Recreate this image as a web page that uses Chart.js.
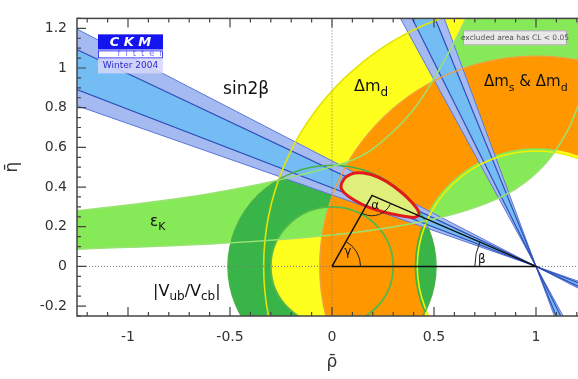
<!DOCTYPE html>
<html>
<head>
<meta charset="utf-8">
<script src="https://cdn.jsdelivr.net/npm/chart.js@4.4.1/dist/chart.umd.min.js"></script>
<style>
  html, body { margin: 0; padding: 0; background: #fff; overflow: hidden; }
  #wrap { width: 590px; height: 379px; }
</style>
</head>
<body>
<div id="wrap"><canvas id="c" width="590" height="379"></canvas></div>
<script>
/* CKM-Ebene (rho-bar, eta-bar) */
var X_TICKS = [-1, -0.5, 0, 0.5, 1];
var Y_TICKS = [-0.2, 0, 0.2, 0.4, 0.6, 0.8, 1, 1.2];

var APEX = [0.196, 0.358];          // Spitze des Dreiecks (rho, eta)
var DMD_R = [0.582, 1.335];         // Δm_d: Ring um (1,0), innen/aussen
var DMS_R = [0.595, 1.06];          // Δm_s & Δm_d: Ring um (1,0)
var VUB_R = [0.30, 0.51];           // |Vub/Vcb|: Ring um (0,0)
var BETA_OUT = [19.8, 28.0];        // sin2β, Winkel in Grad (CL 0.05)
var BETA_IN = [21.6, 25.9];         // sin2β, inneres Band

// ε_K: untere und obere Bandkante
var EPSK_LO_RHO = [-1.3, -0.8, -0.4, 0, 0.3, 0.6, 0.8, 0.9, 1.0, 1.1, 1.2, 1.3];
var EPSK_LO_ETA = [0.085, 0.102, 0.123, 0.156, 0.195, 0.26, 0.333, 0.388, 0.465, 0.58, 0.77, 1.14];
var EPSK_HI_RHO = [-1.3, -0.8, -0.36, 0, 0.14, 0.24, 0.4, 0.52, 0.6, 0.68];
var EPSK_HI_ETA = [0.275, 0.33, 0.41, 0.5, 0.55, 0.62, 0.78, 0.98, 1.13, 1.3];

// Konturlinie CL = 0.05 (rot)
var CL_RHO = [0.044, 0.069, 0.118, 0.191, 0.265, 0.338, 0.397, 0.431, 0.417, 0.363, 0.289, 0.216, 0.142, 0.078, 0.044];
var CL_ETA = [0.417, 0.456, 0.475, 0.466, 0.431, 0.377, 0.319, 0.270, 0.245, 0.250, 0.265, 0.284, 0.314, 0.353, 0.387];

var FONT = '"DejaVu Sans", "Liberation Sans", sans-serif';
var D2R = Math.PI / 180;

function pts(rs, es) { return rs.map(function (r, i) { return [r, es[i]]; }); }

// glatte Kurve durch Mittelpunkte
function smoothOpen(ctx, p, first) {
  if (first) ctx.moveTo(p[0][0], p[0][1]); else ctx.lineTo(p[0][0], p[0][1]);
  for (var i = 1; i < p.length - 1; i++) {
    ctx.quadraticCurveTo(p[i][0], p[i][1], (p[i][0] + p[i + 1][0]) / 2, (p[i][1] + p[i + 1][1]) / 2);
  }
  ctx.lineTo(p[p.length - 1][0], p[p.length - 1][1]);
}
function smoothClosed(ctx, p) {
  var n = p.length;
  var m = function (i) { var a = p[i % n], b = p[(i + 1) % n]; return [(a[0] + b[0]) / 2, (a[1] + b[1]) / 2]; };
  var s = m(n - 1);
  ctx.moveTo(s[0], s[1]);
  for (var i = 0; i < n; i++) { var q = m(i); ctx.quadraticCurveTo(p[i][0], p[i][1], q[0], q[1]); }
  ctx.closePath();
}

// Text mit Tiefstellungen: parts = [[text, tief?], ...]
function subText(ctx, parts, x, y, size, color) {
  ctx.fillStyle = color; ctx.textBaseline = 'alphabetic'; ctx.textAlign = 'left';
  parts.forEach(function (p) {
    var fs = p[1] ? Math.round(size * 0.72) : size;
    ctx.font = fs + 'px ' + FONT;
    ctx.fillText(p[0], x, y + (p[1] ? size * 0.3 : 0));
    x += ctx.measureText(p[0]).width;
  });
}

var ckm = {
  id: 'ckm',
  beforeDatasetsDraw: function (chart) {
    var ctx = chart.ctx, a = chart.chartArea, xs = chart.scales.x, ys = chart.scales.y;
    var X = function (v) { return xs.getPixelForValue(v); };
    var Y = function (v) { return ys.getPixelForValue(v); };
    var kx = X(1) - X(0), ky = Y(0) - Y(1);
    var P = function (r, e) { return [X(r), Y(e)]; };

    ctx.save();
    ctx.beginPath(); ctx.rect(a.left, a.top, a.right - a.left, a.bottom - a.top); ctx.clip();

    function ring(cx, cy, r, color) {
      ctx.beginPath();
      ctx.ellipse(X(cx), Y(cy), r[1] * kx, r[1] * ky, 0, 0, 2 * Math.PI);
      ctx.moveTo(X(cx) + r[0] * kx, Y(cy));
      ctx.ellipse(X(cx), Y(cy), r[0] * kx, r[0] * ky, 0, 0, 2 * Math.PI, true);
      ctx.fillStyle = color; ctx.fill('evenodd');
    }
    function circ(cx, cy, r, color, w) {
      ctx.beginPath();
      ctx.ellipse(X(cx), Y(cy), r * kx, r * ky, 0, 0, 2 * Math.PI);
      ctx.strokeStyle = color; ctx.lineWidth = w; ctx.stroke();
    }
    // Doppelkegel um (1,0), Winkel gegen die -rho Richtung
    function wedge(th, color) {
      var L = 6;
      ctx.beginPath();
      [1, -1].forEach(function (s) {
        ctx.moveTo(X(1), Y(0));
        th.forEach(function (d) { ctx.lineTo(X(1 - s * L * Math.cos(d * D2R)), Y(s * L * Math.sin(d * D2R))); });
        ctx.closePath();
      });
      ctx.fillStyle = color; ctx.fill();
    }
    function ray(d, color, w) {
      var L = 6;
      ctx.beginPath();
      ctx.moveTo(X(1 - L * Math.cos(d * D2R)), Y(L * Math.sin(d * D2R)));
      ctx.lineTo(X(1 + L * Math.cos(d * D2R)), Y(-L * Math.sin(d * D2R)));
      ctx.strokeStyle = color; ctx.lineWidth = w; ctx.stroke();
    }

    var lo = pts(EPSK_LO_RHO, EPSK_LO_ETA).map(function (p) { return P(p[0], p[1]); });
    var hi = pts(EPSK_HI_RHO, EPSK_HI_ETA).map(function (p) { return P(p[0], p[1]); });

    // Δm_d
    ring(1, 0, DMD_R, '#ffff1e');
    // ε_K
    ctx.beginPath();
    smoothOpen(ctx, lo, true);
    ctx.lineTo(lo[lo.length - 1][0], a.top - 20);
    ctx.lineTo(hi[hi.length - 1][0], a.top - 20);
    smoothOpen(ctx, hi.slice().reverse(), false);
    ctx.closePath();
    ctx.fillStyle = '#86ea58'; ctx.fill();
    // |Vub/Vcb|
    ring(0, 0, VUB_R, '#38b448');
    // Δm_s & Δm_d
    ring(1, 0, DMS_R, '#ff9800');

    // sin2β (beide Lösungen)
    var steep = function (t) { return [90 - t[1], 90 - t[0]]; };
    wedge(BETA_OUT, '#a6baf2'); wedge(steep(BETA_OUT), '#a6baf2');
    wedge(BETA_IN, '#74bcf4'); wedge(steep(BETA_IN), '#74bcf4');
    BETA_OUT.concat(steep(BETA_OUT)).forEach(function (d) { ray(d, '#5a78d8', 1); });
    BETA_IN.concat(steep(BETA_IN)).forEach(function (d) { ray(d, '#2f4fb8', 1.2); });

    // Konturlinien
    circ(1, 0, DMD_R[1], '#e4e400', 1.6);
    circ(1, 0, DMD_R[0], '#f2f200', 1.6);
    circ(1, 0, DMS_R[1], '#f0a040', 1.4);
    circ(0, 0, VUB_R[0], '#52b84a', 1.8);
    circ(0, 0, VUB_R[1], '#48b046', 1.4);
    ctx.strokeStyle = '#9ae272'; ctx.lineWidth = 1.5;
    ctx.beginPath(); smoothOpen(ctx, lo, true); ctx.stroke();
    ctx.beginPath(); smoothOpen(ctx, hi, true); ctx.stroke();

    // gepunktete Achsen
    ctx.setLineDash([1, 2]); ctx.strokeStyle = '#777'; ctx.lineWidth = 1;
    ctx.beginPath(); ctx.moveTo(a.left, Y(0)); ctx.lineTo(a.right, Y(0));
    ctx.moveTo(X(0), a.top); ctx.lineTo(X(0), a.bottom); ctx.stroke();
    ctx.setLineDash([]);

    // CL-Kontur
    var cl = pts(CL_RHO, CL_ETA).map(function (p) { return P(p[0], p[1]); });
    ctx.beginPath(); smoothClosed(ctx, cl);
    ctx.fillStyle = '#dff07a'; ctx.fill();
    ctx.strokeStyle = '#e01a1a'; ctx.lineWidth = 3; ctx.stroke();

    ctx.restore();
  },
  afterDatasetsDraw: function (chart) {
    var ctx = chart.ctx, a = chart.chartArea, xs = chart.scales.x, ys = chart.scales.y;
    var X = function (v) { return xs.getPixelForValue(v); };
    var Y = function (v) { return ys.getPixelForValue(v); };
    var kx = X(1) - X(0);
    ctx.save();
    ctx.beginPath(); ctx.rect(a.left, a.top, a.right - a.left, a.bottom - a.top); ctx.clip();

    // Winkelbögen (Canvas-Winkel, y nach unten)
    var ag = Math.atan2(APEX[1], APEX[0]);
    var ab = Math.atan2(APEX[1], 1 - APEX[0]);
    ctx.strokeStyle = '#222'; ctx.lineWidth = 1;
    ctx.beginPath(); ctx.arc(X(0), Y(0), 0.14 * kx, -ag, 0); ctx.stroke();
    ctx.beginPath(); ctx.arc(X(1), Y(0), 0.30 * kx, Math.PI, Math.PI + ab); ctx.stroke();
    ctx.beginPath(); ctx.arc(X(APEX[0]), Y(APEX[1]), 0.1 * kx, ab, Math.PI - ag, false); ctx.stroke();

    ctx.fillStyle = '#111'; ctx.textAlign = 'center'; ctx.textBaseline = 'middle';
    ctx.font = '12px ' + FONT;
    ctx.fillText('γ', X(0.078), Y(0.074));
    ctx.fillText('α', X(0.212), Y(0.305));
    ctx.fillText('β', X(0.735), Y(0.035));

    // Beschriftungen
    ctx.font = '17px ' + FONT; ctx.textAlign = 'left'; ctx.textBaseline = 'alphabetic';
    ctx.fillText('sin2β', X(-0.534), Y(0.868));
    subText(ctx, [['Δm', 0], ['d', 1]], X(0.108), Y(0.882), 16, '#111');
    subText(ctx, [['Δm', 0], ['s', 1], [' & Δm', 0], ['d', 1]], X(0.745), Y(0.907), 15, '#111');
    subText(ctx, [['ε', 0], ['K', 1]], X(-0.892), Y(0.206), 15, '#111');
    subText(ctx, [['|V', 0], ['ub', 1], ['/V', 0], ['cb', 1], ['|', 0]], X(-0.877), Y(-0.147), 16, '#111');

    // CKMfitter-Logo
    var lx = a.left + 21, ly = a.top + 16, lw = 65;
    ctx.fillStyle = 'rgba(215,215,250,0.85)'; ctx.fillRect(lx, ly, lw, 39);
    ctx.fillStyle = '#1414f0'; ctx.fillRect(lx, ly, lw, 15);
    ctx.fillStyle = '#fff'; ctx.fillRect(lx, ly + 16, lw, 8);
    ctx.strokeStyle = '#1414f0'; ctx.lineWidth = 0.8; ctx.strokeRect(lx + 0.5, ly + 16.5, lw - 1, 7);
    ctx.font = 'italic bold 13px ' + FONT; ctx.textAlign = 'center'; ctx.textBaseline = 'middle';
    ctx.fillStyle = '#fff'; ctx.fillText('C K M', lx + lw / 2, ly + 8);
    ctx.font = '8px ' + FONT; ctx.fillStyle = '#6a6af0'; ctx.fillText('f  i  t  t  e  r', lx + 42, ly + 20);
    ctx.font = '9px ' + FONT; ctx.fillStyle = '#2a2ad0'; ctx.fillText('Winter 2004', lx + lw / 2, ly + 31);

    // Hinweisbox
    var bx = X(0.642), by = Y(1.19);
    ctx.fillStyle = '#e8e8e8'; ctx.fillRect(bx, by, 104, 15);
    ctx.strokeStyle = '#aaa'; ctx.lineWidth = 1; ctx.strokeRect(bx + 0.5, by + 0.5, 103, 14);
    ctx.font = '7.5px ' + FONT; ctx.fillStyle = '#555'; ctx.textAlign = 'center';
    ctx.fillText('excluded area has CL < 0.05', bx + 52, by + 8);
    ctx.restore();

    // Rahmen und Ticks
    ctx.save();
    ctx.strokeStyle = '#444'; ctx.lineWidth = 1.5;
    ctx.strokeRect(a.left, a.top, a.right - a.left, a.bottom - a.top);
    ctx.lineWidth = 1.2; ctx.beginPath();
    var v, isMaj;
    for (v = -12; v <= 12; v++) {
      isMaj = v % 5 === 0; var px = X(v / 10), tl = isMaj ? 9 : 4;
      ctx.moveTo(px, a.bottom); ctx.lineTo(px, a.bottom - tl);
      ctx.moveTo(px, a.top); ctx.lineTo(px, a.top + tl);
    }
    for (v = -5; v <= 25; v++) {
      isMaj = v % 4 === 0; var py = Y(v / 20), tl2 = isMaj ? 9 : 4;
      ctx.moveTo(a.left, py); ctx.lineTo(a.left + tl2, py);
      ctx.moveTo(a.right, py); ctx.lineTo(a.right - tl2, py);
    }
    ctx.stroke();

    // Achsentitel
    ctx.fillStyle = '#333'; ctx.font = '17px ' + FONT; ctx.textAlign = 'center'; ctx.textBaseline = 'middle';
    ctx.fillText('\u03C1\u0304', X(0), 363);
    ctx.translate(13, (a.top + a.bottom) / 2);
    ctx.rotate(-Math.PI / 2);
    ctx.fillText('\u03B7\u0304', 0, 0);
    ctx.restore();
  }
};

new Chart(document.getElementById('c'), {
  type: 'scatter',
  data: {
    datasets: [{
      label: 'Dreieck',
      data: [{ x: 0, y: 0 }, { x: APEX[0], y: APEX[1] }, { x: 1, y: 0 }, { x: 0, y: 0 }],
      showLine: true, borderColor: '#111', borderWidth: 1.5, pointRadius: 0, fill: false
    }]
  },
  options: {
    responsive: false, animation: false,
    layout: { padding: { top: 10, right: 3, left: 0, bottom: 0 } },
    plugins: { legend: { display: false }, tooltip: { enabled: false } },
    scales: {
      x: {
        type: 'linear', min: -1.25, max: 1.25,
        afterBuildTicks: function (s) { s.ticks = X_TICKS.map(function (t) { return { value: t }; }); },
        afterFit: function (s) { s.height = 63; },
        grid: { display: false, drawTicks: false }, border: { display: false },
        ticks: { padding: 13, color: '#333', font: { family: FONT, size: 14 }, callback: function (t) { return String(t); } }
      },
      y: {
        type: 'linear', min: -0.25, max: 1.25,
        afterBuildTicks: function (s) { s.ticks = Y_TICKS.map(function (t) { return { value: t }; }); },
        afterFit: function (s) { s.width = 77; },
        grid: { display: false, drawTicks: false }, border: { display: false },
        ticks: { padding: 10, color: '#333', font: { family: FONT, size: 14 }, callback: function (t) { return String(t); } }
      }
    }
  },
  plugins: [ckm]
});
</script>
</body>
</html>
